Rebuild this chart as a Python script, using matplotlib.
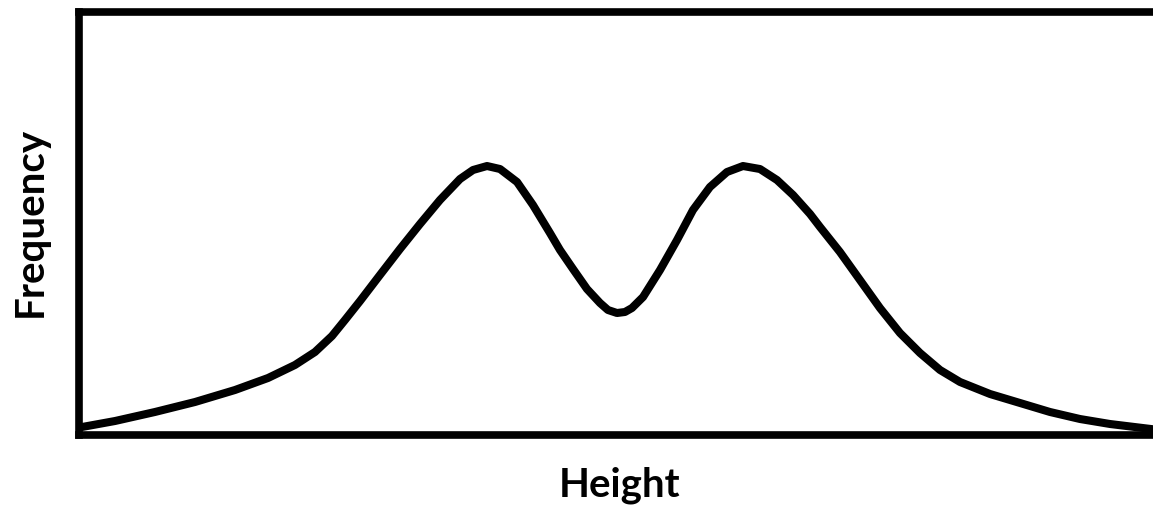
import matplotlib
matplotlib.use('Agg')
import matplotlib.pyplot as plt

# curve (height 0-100, frequency 0-100)
height = [0, 0.28, 3.35, 7.06, 10.78, 14.5, 17.57, 20.07, 21.93, 23.51,
          24.72, 26.12, 27.97, 29.83, 31.69, 33.55, 35.41, 36.62, 37.92,
          39.13, 40.71, 42.19, 43.77, 44.70, 45.91, 47.21, 48.42, 49.16,
          50.0, 50.74, 51.39, 52.42, 54.0, 55.58, 57.06, 58.64, 60.22,
          61.71, 63.29, 64.87, 66.36, 67.94, 68.87, 70.72, 72.58, 74.44,
          76.3, 78.16, 80.02, 81.88, 84.67, 87.45, 90.24, 93.03, 95.82,
          98.88, 100]
freq = [1.65, 1.89, 3.31, 5.44, 7.80, 10.64, 13.48, 16.55, 19.62, 23.40,
        27.19, 31.68, 37.83, 43.97, 49.88, 55.56, 60.52, 62.65, 63.59,
        62.88, 59.81, 54.37, 47.75, 43.74, 39.25, 34.52, 31.21, 29.55,
        28.84, 29.08, 30.02, 32.62, 39.01, 46.1, 53.19, 58.63, 62.17,
        63.59, 62.88, 60.28, 56.74, 52.25, 49.17, 43.26, 36.64, 30.02,
        24.11, 19.39, 15.37, 12.53, 9.69, 7.57, 5.44, 3.78, 2.60,
        1.65, 1.30]

W, H = 1153, 508
fig = plt.figure(figsize=(W / 100, H / 100), dpi=100)
ax = fig.add_axes([79 / W, 1 - 435 / H, (1155 - 79) / W, (435 - 12) / H])

ax.plot(height, freq, color='black', lw=5.8, solid_joinstyle='round',
        solid_capstyle='butt', clip_on=False)
ax.set_xlim(0, 100)
ax.set_ylim(0, 100)
ax.set_xticks([])
ax.set_yticks([])
for sp in ax.spines.values():
    sp.set_linewidth(5.5)
    sp.set_color('black')

fig.text(620 / W, 1 - 497 / H, 'Height', family='Lato', weight='bold',
         fontsize=29, ha='center', va='baseline')
fig.text(42 / W, 1 - 221.5 / H, 'Frequency', family='Lato', weight='bold',
         fontsize=29, ha='center', va='baseline', rotation=90,
         rotation_mode='anchor')

fig.savefig('out.png', dpi=100)
